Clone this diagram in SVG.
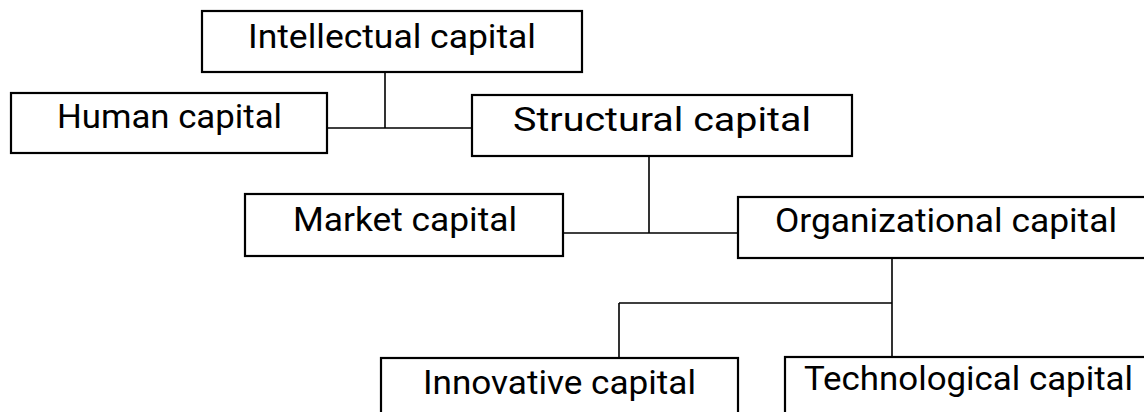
<svg xmlns="http://www.w3.org/2000/svg" width="1144" height="412" viewBox="0 0 1144 412">
<style>
.box{fill:#fff;stroke:#000;stroke-width:2.2}
.lbl{font-family:Roboto,"Liberation Sans",sans-serif;font-size:34px;fill:#000}
.con{fill:none;stroke:#000;stroke-width:1.6}
</style>
<rect width="1144" height="412" fill="#fff"/>
<g id="connectors">
<path class="con" d="M385 72V128M327 128H472"/>
<path class="con" d="M649 156V233M563 233H738"/>
<path class="con" d="M892 258V357M619 303H892M619 303V358"/>
</g>
<g id="intellectual">
<rect class="box" x="202" y="11" width="380" height="61"/>
<text class="lbl" x="248" y="48" textLength="288" lengthAdjust="spacingAndGlyphs">Intellectual capital</text>
</g>
<g id="human">
<rect class="box" x="11" y="93" width="316" height="60"/>
<text class="lbl" x="57" y="128" textLength="225" lengthAdjust="spacingAndGlyphs">Human capital</text>
</g>
<g id="structural">
<rect class="box" x="472" y="95" width="380" height="61"/>
<text class="lbl" x="513" y="131" textLength="298" lengthAdjust="spacingAndGlyphs">Structural capital</text>
</g>
<g id="market">
<rect class="box" x="245" y="194" width="318" height="62"/>
<text class="lbl" x="293" y="231" textLength="224" lengthAdjust="spacingAndGlyphs">Market capital</text>
</g>
<g id="organizational">
<rect class="box" x="738" y="197" width="412" height="61"/>
<text class="lbl" x="775" y="232" textLength="342" lengthAdjust="spacingAndGlyphs">Organizational capital</text>
</g>
<g id="innovative">
<rect class="box" x="381" y="358" width="357" height="62"/>
<text class="lbl" x="423" y="394" textLength="273" lengthAdjust="spacingAndGlyphs">Innovative capital</text>
</g>
<g id="technological">
<rect class="box" x="785" y="357" width="365" height="63"/>
<text class="lbl" x="804" y="390" textLength="329" lengthAdjust="spacingAndGlyphs">Technological capital</text>
</g>
</svg>
